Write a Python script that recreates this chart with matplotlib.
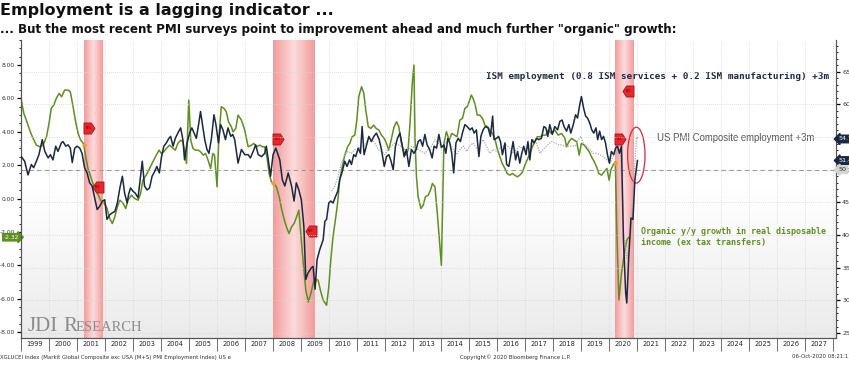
import numpy as np
import matplotlib
matplotlib.use("Agg")
import matplotlib.pyplot as plt
import matplotlib.transforms as mtransforms
from matplotlib.patches import Ellipse
from matplotlib.colors import LinearSegmentedColormap
from matplotlib.ticker import MultipleLocator, FixedLocator, FixedFormatter, NullFormatter, FormatStrFormatter

# organic y/y growth in real disposable income, ex tax transfers (left axis, %)
income_t = [1999.00, 1999.10, 1999.19, 1999.31, 1999.43, 1999.55, 1999.67, 1999.79, 1999.91, 2000.00,
            2000.08, 2000.17, 2000.26, 2000.36, 2000.45, 2000.56, 2000.68, 2000.76, 2000.86, 2000.95,
            2001.04, 2001.13, 2001.23, 2001.31, 2001.39, 2001.49, 2001.57, 2001.67, 2001.76, 2001.87,
            2001.99, 2002.07, 2002.17, 2002.26, 2002.35, 2002.44, 2002.53, 2002.65, 2002.74, 2002.82,
            2002.94, 2003.06, 2003.18, 2003.27, 2003.35, 2003.47, 2003.59, 2003.71, 2003.83, 2003.93,
            2004.01, 2004.10, 2004.19, 2004.31, 2004.43, 2004.51, 2004.60, 2004.70, 2004.78, 2004.84,
            2004.91, 2004.99, 2005.06, 2005.14, 2005.22, 2005.32, 2005.41, 2005.51, 2005.59, 2005.68,
            2005.77, 2005.85, 2005.91, 2006.00, 2006.06, 2006.15, 2006.25, 2006.33, 2006.41, 2006.51,
            2006.57, 2006.67, 2006.75, 2006.87, 2006.99, 2007.11, 2007.23, 2007.31, 2007.41, 2007.53,
            2007.62, 2007.70, 2007.79, 2007.86, 2007.94, 2008.03, 2008.12, 2008.22, 2008.30, 2008.42,
            2008.50, 2008.57, 2008.66, 2008.75, 2008.84, 2008.92, 2008.99, 2009.07, 2009.17, 2009.26,
            2009.35, 2009.43, 2009.51, 2009.61, 2009.69, 2009.79, 2009.91, 2009.99, 2010.06, 2010.14,
            2010.24, 2010.31, 2010.38, 2010.47, 2010.56, 2010.66, 2010.74, 2010.82, 2010.92, 2010.99,
            2011.06, 2011.16, 2011.24, 2011.31, 2011.40, 2011.49, 2011.59, 2011.68, 2011.78, 2011.87,
            2011.97, 2012.05, 2012.13, 2012.23, 2012.32, 2012.41, 2012.49, 2012.56, 2012.64, 2012.73,
            2012.82, 2012.89, 2012.97, 2013.03, 2013.07, 2013.12, 2013.18, 2013.28, 2013.36, 2013.44,
            2013.54, 2013.62, 2013.69, 2013.78, 2013.87, 2013.94, 2014.01, 2014.10, 2014.19, 2014.29,
            2014.38, 2014.48, 2014.57, 2014.67, 2014.76, 2014.85, 2014.93, 2015.00, 2015.08, 2015.14,
            2015.22, 2015.29, 2015.38, 2015.48, 2015.56, 2015.66, 2015.74, 2015.83, 2015.92, 2016.00,
            2016.10, 2016.18, 2016.28, 2016.36, 2016.45, 2016.55, 2016.63, 2016.72, 2016.81, 2016.91,
            2016.99, 2017.07, 2017.17, 2017.26, 2017.35, 2017.43, 2017.53, 2017.64, 2017.74, 2017.82,
            2017.94, 2018.06, 2018.18, 2018.30, 2018.42, 2018.48, 2018.56, 2018.66, 2018.75, 2018.84,
            2018.93, 2019.01, 2019.11, 2019.20, 2019.29, 2019.37, 2019.47, 2019.55, 2019.63, 2019.73,
            2019.82, 2019.92, 2020.00, 2020.06, 2020.14, 2020.22, 2020.28, 2020.35, 2020.44, 2020.54,
            2020.63, 2020.70]
income = [6.0, 5.1, 4.7, 4.1, 3.6, 3.2, 3.1, 3.2, 3.7, 4.5,
          5.4, 5.6, 6.0, 6.3, 6.1, 6.5, 6.5, 6.4, 5.5, 4.6,
          3.9, 3.5, 3.3, 2.5, 1.8, 1.3, 0.9, 0.5, 0.2, -0.2,
          -0.3, -0.6, -1.2, -1.5, -1.1, -0.5, -0.1, -0.3, -0.6, -0.1,
          0.2, 0.0, -0.1, 0.3, 1.1, 1.4, 1.8, 2.2, 2.6, 2.9,
          2.7, 2.8, 3.0, 3.2, 3.0, 2.9, 3.3, 3.5, 3.4, 2.9,
          2.1, 5.9, 3.5, 3.0, 2.9, 2.9, 2.8, 2.6, 2.7, 2.3,
          1.8, 2.7, 2.6, 0.7, 3.5, 5.5, 5.4, 5.2, 4.6, 4.3,
          4.0, 4.2, 5.0, 4.7, 4.1, 3.1, 3.2, 3.3, 3.1, 3.2,
          3.1, 3.1, 2.4, 1.5, 1.0, 0.9, 0.7, 0.1, -0.6, -1.4,
          -1.8, -2.1, -1.7, -1.5, -1.1, -0.7, -2.1, -3.7, -5.5, -6.2,
          -5.7, -5.1, -4.8, -4.9, -5.5, -6.1, -6.4, -5.3, -3.7, -2.3,
          -1.1, -0.2, 1.1, 1.9, 2.6, 3.1, 3.3, 3.7, 3.8, 4.7,
          6.1, 6.7, 6.3, 5.3, 4.3, 4.2, 4.4, 4.2, 4.1, 3.8,
          3.6, 3.3, 2.9, 3.6, 4.3, 4.6, 4.3, 3.5, 2.9, 2.6,
          2.9, 4.5, 6.9, 8.0, 3.5, 1.3, 0.1, -0.6, -0.4, 0.1,
          0.2, 0.5, 0.9, 0.7, -1.0, -2.5, -4.0, 3.3, 4.0, 3.5,
          3.9, 3.8, 3.7, 4.7, 4.8, 5.4, 5.5, 5.8, 6.2, 6.0,
          5.6, 5.0, 5.0, 4.8, 4.4, 4.3, 4.1, 3.9, 3.6, 3.0,
          2.5, 2.1, 1.8, 1.5, 1.4, 1.5, 1.4, 1.3, 1.4, 1.6,
          2.0, 2.3, 2.7, 3.1, 3.4, 3.7, 3.7, 3.8, 3.8, 4.1,
          3.9, 4.1, 3.8, 3.9, 3.6, 3.1, 3.4, 3.6, 3.5, 3.4,
          2.6, 3.3, 3.2, 3.0, 2.8, 2.5, 2.2, 1.9, 1.5, 1.4,
          1.6, 1.8, 1.1, 1.7, 2.0, 2.2, -2.3, -6.1, -4.5, -3.3,
          -2.5, -2.32]

# ISM employment (0.8 ISM services + 0.2 ISM manufacturing) +3m (right axis)
ism_t = [1999.01, 1999.13, 1999.25, 1999.37, 1999.45, 1999.55, 1999.64, 1999.76, 1999.85, 1999.97,
         2000.05, 2000.14, 2000.24, 2000.32, 2000.44, 2000.50, 2000.60, 2000.68, 2000.76, 2000.83,
         2000.92, 2001.00, 2001.10, 2001.18, 2001.27, 2001.36, 2001.45, 2001.54, 2001.62, 2001.72,
         2001.81, 2001.91, 2001.99, 2002.07, 2002.17, 2002.26, 2002.35, 2002.44, 2002.53, 2002.62,
         2002.70, 2002.79, 2002.84, 2002.91, 2003.00, 2003.08, 2003.18, 2003.27, 2003.33, 2003.41,
         2003.50, 2003.59, 2003.68, 2003.77, 2003.85, 2003.94, 2004.01, 2004.10, 2004.19, 2004.28,
         2004.34, 2004.43, 2004.51, 2004.60, 2004.70, 2004.78, 2004.84, 2004.93, 2005.02, 2005.10,
         2005.18, 2005.26, 2005.34, 2005.41, 2005.49, 2005.56, 2005.64, 2005.71, 2005.80, 2005.89,
         2005.96, 2006.05, 2006.13, 2006.21, 2006.30, 2006.39, 2006.49, 2006.56, 2006.63, 2006.75,
         2006.87, 2006.99, 2007.11, 2007.19, 2007.29, 2007.38, 2007.47, 2007.59, 2007.70, 2007.76,
         2007.91, 2008.00, 2008.10, 2008.18, 2008.24, 2008.33, 2008.42, 2008.54, 2008.66, 2008.75,
         2008.83, 2008.92, 2009.01, 2009.10, 2009.17, 2009.25, 2009.37, 2009.43, 2009.50, 2009.57,
         2009.67, 2009.79, 2009.85, 2009.91, 2009.99, 2010.06, 2010.14, 2010.23, 2010.31, 2010.38,
         2010.47, 2010.56, 2010.64, 2010.73, 2010.80, 2010.88, 2010.95, 2011.04, 2011.12, 2011.18,
         2011.25, 2011.33, 2011.42, 2011.51, 2011.60, 2011.69, 2011.79, 2011.87, 2011.97, 2012.05,
         2012.13, 2012.20, 2012.29, 2012.37, 2012.44, 2012.53, 2012.61, 2012.68, 2012.76, 2012.85,
         2012.94, 2013.03, 2013.11, 2013.18, 2013.26, 2013.34, 2013.42, 2013.50, 2013.59, 2013.68,
         2013.75, 2013.84, 2013.92, 2014.01, 2014.10, 2014.17, 2014.24, 2014.31, 2014.38, 2014.45,
         2014.53, 2014.61, 2014.69, 2014.76, 2014.85, 2014.93, 2015.03, 2015.11, 2015.18, 2015.26,
         2015.35, 2015.42, 2015.50, 2015.58, 2015.68, 2015.76, 2015.84, 2015.89, 2015.98, 2016.05,
         2016.12, 2016.19, 2016.28, 2016.34, 2016.42, 2016.49, 2016.57, 2016.66, 2016.73, 2016.81,
         2016.88, 2016.95, 2017.03, 2017.10, 2017.17, 2017.24, 2017.32, 2017.41, 2017.49, 2017.58,
         2017.67, 2017.74, 2017.81, 2017.88, 2017.97, 2018.06, 2018.16, 2018.24, 2018.32, 2018.39,
         2018.48, 2018.56, 2018.63, 2018.72, 2018.80, 2018.87, 2018.94, 2019.01, 2019.09, 2019.16,
         2019.23, 2019.31, 2019.38, 2019.45, 2019.53, 2019.59, 2019.66, 2019.73, 2019.80, 2019.87,
         2019.94, 2020.01, 2020.08, 2020.16, 2020.23, 2020.30, 2020.37, 2020.44, 2020.51, 2020.59,
         2020.63, 2020.70, 2020.78, 2020.85, 2020.92, 2021.01]
ism = [52.0, 51.3, 49.2, 50.8, 50.3, 51.3, 52.3, 54.6, 52.8, 51.8,
       52.3, 51.5, 53.6, 52.8, 54.1, 54.3, 53.6, 53.8, 53.3, 51.1,
       53.3, 53.6, 53.3, 52.5, 50.3, 49.5, 48.0, 47.5, 45.9, 43.9,
       44.4, 45.2, 45.4, 42.4, 43.1, 43.4, 43.6, 44.9, 47.2, 49.0,
       46.4, 44.9, 46.2, 47.2, 46.7, 46.4, 45.7, 49.0, 51.3, 47.5,
       46.9, 47.2, 49.0, 49.7, 50.5, 49.5, 51.8, 53.6, 54.1, 54.8,
       55.1, 53.6, 54.8, 55.6, 56.4, 54.6, 51.5, 54.1, 55.6, 56.4,
       55.6, 54.8, 56.9, 58.9, 56.6, 54.6, 53.1, 52.5, 54.8, 58.4,
       56.9, 54.1, 56.9, 56.1, 54.6, 56.4, 55.1, 55.4, 54.6, 51.0,
       53.1, 52.3, 52.3, 51.8, 52.8, 53.8, 52.3, 52.0, 52.5, 53.6,
       49.0, 52.3, 53.3, 52.3, 51.5, 48.5, 47.5, 49.5, 47.5, 45.2,
       48.0, 46.9, 45.4, 41.3, 33.2, 34.2, 35.0, 35.2, 31.7, 36.2,
       37.8, 39.3, 42.1, 42.4, 44.9, 45.2, 44.9, 45.9, 46.7, 48.5,
       49.7, 51.3, 50.5, 51.5, 50.8, 52.3, 52.0, 53.3, 52.5, 56.6,
       52.3, 53.6, 55.1, 54.3, 55.1, 55.6, 54.6, 53.1, 50.5, 52.0,
       52.3, 51.5, 50.0, 53.6, 54.8, 55.6, 53.8, 52.0, 53.1, 50.5,
       53.1, 52.5, 53.1, 54.3, 54.6, 53.6, 55.4, 53.8, 53.1, 51.8,
       53.6, 53.3, 55.4, 53.4, 53.8, 52.5, 54.8, 54.1, 52.5, 49.5,
       54.1, 54.8, 54.3, 55.6, 56.9, 56.6, 56.1, 56.4, 55.6, 56.1,
       52.0, 55.1, 56.1, 56.6, 56.4, 55.1, 58.2, 54.6, 54.8, 55.1,
       54.3, 52.3, 54.1, 50.8, 50.5, 52.3, 54.3, 51.5, 52.8, 51.0,
       52.5, 53.6, 52.3, 54.3, 51.5, 54.6, 54.1, 54.8, 54.6, 54.8,
       56.6, 56.4, 55.1, 56.9, 55.4, 56.6, 56.1, 57.4, 57.6, 56.6,
       55.9, 56.9, 55.6, 56.9, 58.4, 57.9, 59.7, 61.2, 59.4, 58.2,
       57.9, 57.1, 56.1, 55.6, 56.4, 54.6, 55.9, 54.6, 55.1, 54.1,
       52.3, 51.0, 52.8, 52.3, 53.3, 53.6, 52.5, 53.6, 39.3, 31.1,
       29.6, 36.7, 42.6, 42.4, 48.5, 51.4]

# US PMI Composite employment +3m (right axis)
pmi_t = [2010.09, 2010.20, 2010.32, 2010.44, 2010.56, 2010.68, 2010.80, 2010.92, 2011.04, 2011.16,
         2011.28, 2011.39, 2011.51, 2011.63, 2011.75, 2011.87, 2011.99, 2012.11, 2012.23, 2012.35,
         2012.47, 2012.58, 2012.70, 2012.82, 2012.94, 2013.06, 2013.18, 2013.30, 2013.42, 2013.54,
         2013.66, 2013.78, 2013.89, 2014.01, 2014.07, 2014.19, 2014.31, 2014.43, 2014.55, 2014.67,
         2014.79, 2014.91, 2015.03, 2015.14, 2015.26, 2015.38, 2015.50, 2015.62, 2015.74, 2015.86,
         2015.98, 2016.10, 2016.22, 2016.33, 2016.45, 2016.57, 2016.69, 2016.81, 2016.93, 2017.05,
         2017.17, 2017.29, 2017.41, 2017.53, 2017.64, 2017.76, 2017.94, 2018.06, 2018.18, 2018.30,
         2018.42, 2018.54, 2018.66, 2018.78, 2018.90, 2018.99, 2019.07, 2019.19, 2019.31, 2019.43,
         2019.55, 2019.67, 2019.79, 2019.91, 2020.03, 2020.14, 2020.23, 2020.32, 2020.42, 2020.52,
         2020.62, 2020.74, 2020.86, 2020.98, 2021.05]
pmi = [46.7, 47.5, 49.0, 51.0, 52.3, 52.8, 52.5, 53.1, 53.1, 53.6,
       53.8, 54.6, 54.8, 54.1, 53.1, 52.8, 52.3, 53.1, 53.6, 54.1,
       53.8, 53.6, 53.1, 52.8, 53.6, 53.3, 53.1, 52.8, 52.5, 53.1,
       53.6, 54.6, 54.1, 53.6, 53.6, 54.3, 54.1, 53.1, 52.3, 53.1,
       53.6, 52.8, 53.6, 54.1, 53.3, 53.8, 54.6, 53.6, 52.5, 53.1,
       52.8, 53.3, 53.6, 53.8, 53.3, 52.5, 53.1, 53.6, 53.1, 53.3,
       53.8, 54.6, 54.1, 52.5, 53.1, 53.6, 54.3, 54.1, 53.8, 53.8,
       53.6, 53.6, 53.6, 53.6, 54.6, 55.1, 54.1, 53.6, 53.1, 52.5,
       52.5, 52.3, 52.0, 51.5, 51.0, 52.0, 52.5, 53.1, 52.0, 40.5,
       36.5, 38.3, 47.0, 55.0, 54.7]

recessions = [(2001.24, 2001.90), (2008.0, 2009.49), (2020.2, 2020.86)]
years = list(range(1999, 2028))

GREEN = "#5e8f1f"
NAVY = "#1b2840"
GREY = "#a9a9a9"

X0, X1 = 1999.0, 2028.1
L0, L1 = -8.36, 9.5
R0, R1 = 24.24, 69.85

fig = plt.figure(figsize=(8.49, 3.66), dpi=100)
ax = fig.add_axes([21 / 849, 1 - 338 / 366, 815 / 849, 298 / 366])
ax2 = ax.twinx()

# background and recession shading
bg = LinearSegmentedColormap.from_list("bg", ["#ffffff", "#ffffff", "#ebebeb"])
ax.imshow(np.linspace(0, 1, 200).reshape(-1, 1), cmap=bg, extent=[X0, X1, L0, L1], aspect="auto", zorder=0)
band = LinearSegmentedColormap.from_list("band", ["#f39c9c", "#fcdcdc", "#f39c9c"])
for a, b in recessions:
    ax.imshow(np.linspace(0, 1, 64).reshape(1, -1), cmap=band, extent=[a, b, L0, L1], aspect="auto", zorder=1)

# grid
for y in years + [2028]:
    ax.axvline(y, color="#d6d6d6", lw=0.6, ls=(0, (1, 1.5)), zorder=0.5)
for r in range(25, 70, 5):
    ax2.axhline(r, color="#d6d6d6", lw=0.6, ls=(0, (1, 1.5)), zorder=0.5)
ax2.axhline(50, color="#9c9c9c", lw=0.8, ls=(0, (4, 3)), zorder=1)

# series
ax.plot(income_t, income, color=GREEN, lw=1.1, zorder=3)
ax2.plot(pmi_t, pmi, color=GREY, lw=0.9, ls=(0, (1, 1)), zorder=2)
ax2.plot(ism_t, ism, color=NAVY, lw=1.1, zorder=3)

# small orange dots where the income line meets the recession edges
for a, b in recessions:
    for t in (a, b):
        if t <= income_t[-1]:
            ax.plot(t, np.interp(t, income_t, income), "o", ms=2, color="#f0a020", zorder=4)

ax.set_xlim(X0, X1)
ax.set_ylim(L0, L1)
ax2.set_ylim(R0, R1)

# x axis: ticks at year boundaries, labels in the middle
ax.xaxis.set_major_locator(FixedLocator(years + [2028]))
ax.xaxis.set_major_formatter(NullFormatter())
ax.xaxis.set_minor_locator(FixedLocator([y + 0.5 for y in years]))
ax.xaxis.set_minor_formatter(FixedFormatter([str(y) for y in years]))
ax.tick_params(axis="x", which="major", length=9, width=0.6, color="#555555")
ax.tick_params(axis="x", which="minor", length=0, labelsize=4.8, pad=2, labelcolor="#222222")

ax.yaxis.set_major_locator(MultipleLocator(2))
ax.yaxis.set_minor_locator(MultipleLocator(0.5))
ax.yaxis.set_major_formatter(FormatStrFormatter("%.2f"))
ax.tick_params(axis="y", which="major", length=3, width=0.9, labelsize=4.3, pad=1.5, labelcolor="#333333")
ax.tick_params(axis="y", which="minor", length=1.5, width=0.6)

ax2.yaxis.set_major_locator(MultipleLocator(5))
ax2.yaxis.set_minor_locator(MultipleLocator(1))
ax2.tick_params(axis="y", which="major", length=3, width=0.9, labelsize=4.6, pad=1.5, labelcolor="#333333")
ax2.tick_params(axis="y", which="minor", length=1.5, width=0.6)

for a in (ax, ax2):
    a.spines["top"].set_visible(False)
    for s in ("left", "right", "bottom"):
        a.spines[s].set_color("#555555")
        a.spines[s].set_linewidth(0.8)

# last value tags
tl = mtransforms.blended_transform_factory(ax.transAxes, ax.transData)
tr = mtransforms.blended_transform_factory(ax2.transAxes, ax2.transData)
ax.text(-0.002, income[-1], f"{income[-1]:.2f}", transform=tl, ha="right", va="center", fontsize=4.3,
        color="white", bbox=dict(boxstyle="rarrow,pad=0.2", fc=GREEN, ec=GREEN), clip_on=False, zorder=6)
ax2.text(1.003, pmi[-1], f"{pmi[-1]:.2f}", transform=tr, ha="left", va="center", fontsize=4.6,
         color="white", bbox=dict(boxstyle="larrow,pad=0.2", fc=NAVY, ec=NAVY), clip_on=False, zorder=6)
ax2.text(1.003, ism[-1], f"{ism[-1]:.2f}", transform=tr, ha="left", va="center", fontsize=4.6,
         color="white", bbox=dict(boxstyle="larrow,pad=0.2", fc=NAVY, ec=NAVY), clip_on=False, zorder=6)
ax2.text(1.003, 50, "50", transform=tr, ha="left", va="center", fontsize=4.6,
         color="#333333", bbox=dict(boxstyle="larrow,pad=0.2", fc="#d4d4d4", ec="#d4d4d4"), clip_on=False, zorder=6)

# REC flags
right_flag = [(-1, -1), (0.35, -1), (1, 0), (0.35, 1), (-1, 1), (-1, -1)]
left_flag = [(-x, y) for x, y in right_flag]
for t, v, shape in [(2001.42, 4.2, right_flag), (2001.75, 0.71, left_flag),
                    (2008.18, 3.55, right_flag), (2009.35, -1.97, left_flag),
                    (2020.38, 3.55, right_flag), (2020.68, 6.46, left_flag)]:
    ax.plot(t, v, marker=shape, ms=8, mfc="#e8262e", mec="#8e1010", mew=0.5, zorder=7)
    ax.text(t, v, "REC", fontsize=2.2, color="#5a0000", ha="center", va="center", zorder=8)

ax.add_patch(Ellipse((2020.97, 2.6), 0.62, 3.35, fill=False, ec="#d6283e", lw=0.9, zorder=8))

# labels on the chart
ax.text(2015.6, 7.34, "ISM employment (0.8 ISM services + 0.2 ISM manufacturing) +3m", fontsize=6.65,
        family="DejaVu Sans Mono", weight="bold", color=NAVY, va="center", zorder=8)
ax.text(2021.7, 3.64, "US PMI Composite employment +3m", fontsize=6.9, family="Liberation Sans",
        color="#555555", va="center", zorder=8)
ax.text(2021.13, -2.31, "Organic y/y growth in real disposable\nincome (ex tax transfers)", fontsize=6.05,
        family="DejaVu Sans Mono", weight="bold", color=GREEN, va="center", linespacing=1.3, zorder=8)

# watermark
fig.text(28 / 849, 1 - 331 / 366, "JDI", fontsize=15, family="Liberation Serif", color="#8c8c8c")
fig.text(63 / 849, 1 - 331 / 366, "R", fontsize=15, family="Liberation Serif", color="#8c8c8c")
fig.text(76 / 849, 1 - 331 / 366, "ESEARCH", fontsize=10.5, family="Liberation Serif", color="#8c8c8c")

# titles
fig.text(0.0, 1 - 11 / 366, "Employment is a lagging indicator ...", fontsize=11.5, weight="bold",
         va="center", color="#111111")
fig.text(0.0, 1 - 30 / 366,
         '... But the most recent PMI surveys point to improvement ahead and much further "organic" growth:',
         fontsize=8.6, weight="bold", va="center", color="#111111")

# footer
fig.text(0.0, 1 - 357 / 366, "XGLUCEI Index (Markit Global Composite exc USA (M+S) PMI Employment Index) US e",
         fontsize=3.9, va="center", color="#333333")
fig.text(515 / 849, 1 - 357 / 366, "Copyright\u00a9 2020 Bloomberg Finance L.P.", fontsize=3.9,
         ha="center", va="center", color="#333333")
fig.text(792 / 849, 1 - 357 / 366, "06-Oct-2020 08:21:11", fontsize=3.9, va="center", color="#333333")

fig.savefig("out.png", dpi=100, facecolor="white")
